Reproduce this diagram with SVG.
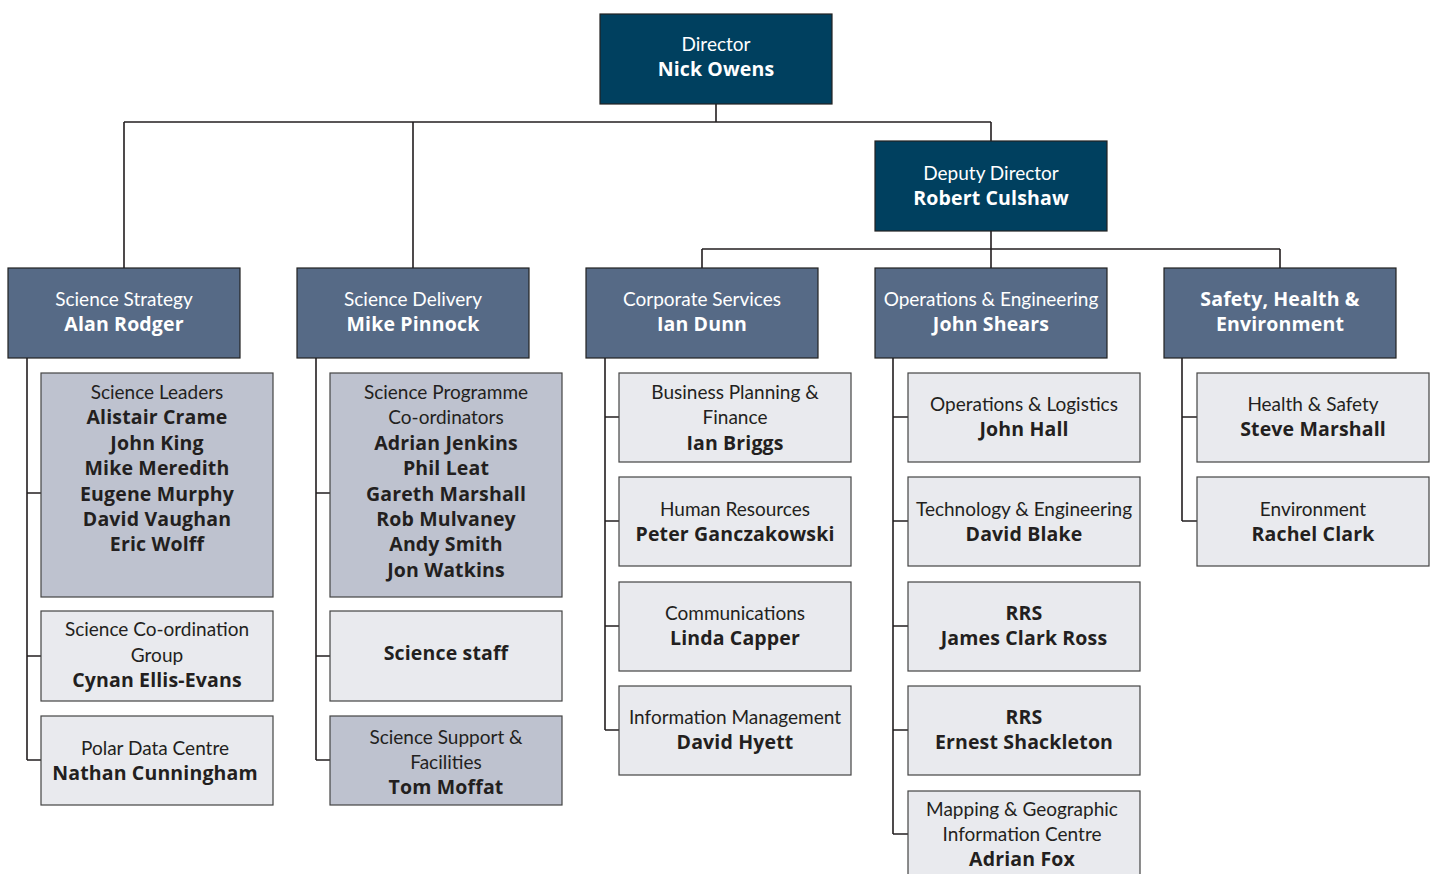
<svg xmlns="http://www.w3.org/2000/svg" width="1434" height="874" viewBox="0 0 1434 874">
<style>
text{font-family:Lato,"Open Sans","Liberation Sans",sans-serif;font-size:19px;text-anchor:middle;fill:#231f20}
.w text{fill:#fff}
text.b{font-family:"Open Sans",Lato,"Liberation Sans",sans-serif;font-weight:bold;font-size:19.5px;letter-spacing:0.15px}
.top{fill:#00405f;stroke:#222;stroke-width:1.2}
.hd{fill:#566a86;stroke:#222;stroke-width:1.2}
.dk{fill:#bec2cf;stroke:#444;stroke-width:1.2}
.lt{fill:#e9eaee;stroke:#444;stroke-width:1.2}
#connectors path{fill:none;stroke:#231f20;stroke-width:1.6}
</style>
<rect width="1434" height="874" fill="#fff"/>
<g id="connectors">
<path d="M716 104V122M124 122H991M124 122V268M413 122V268M991 122V141"/>
<path d="M991 231V249M702 249H1280M702 249V268M991 249V268M1280 249V268"/>
<path d="M27 358V760M27 493H41M27 656H41M27 760H41"/>
<path d="M316 358V760M316 493H330M316 656H330M316 760H330"/>
<path d="M605 358V730M605 417H619M605 521H619M605 626H619M605 730H619"/>
<path d="M893 358V834M893 417H908M893 521H908M893 626H908M893 730H908M893 834H908"/>
<path d="M1182 358V521M1182 417H1197M1182 521H1197"/>
</g>
<g id="director" class="w"><rect class="top" x="600" y="14" width="232" height="90"/><text x="716" y="51">Director</text><text class="b" x="716" y="76">Nick Owens</text></g>
<g id="deputy" class="w"><rect class="top" x="875" y="141" width="232" height="90"/><text x="991" y="180">Deputy Director</text><text class="b" x="991" y="205">Robert Culshaw</text></g>
<g id="science-strategy" class="w"><rect class="hd" x="8" y="268" width="232" height="90"/><text x="124" y="306">Science Strategy</text><text class="b" x="124" y="331">Alan Rodger</text></g>
<g id="science-delivery" class="w"><rect class="hd" x="297" y="268" width="232" height="90"/><text x="413" y="306">Science Delivery</text><text class="b" x="413" y="331">Mike Pinnock</text></g>
<g id="corporate-services" class="w"><rect class="hd" x="586" y="268" width="232" height="90"/><text x="702" y="306">Corporate Services</text><text class="b" x="702" y="331">Ian Dunn</text></g>
<g id="operations-engineering" class="w"><rect class="hd" x="875" y="268" width="232" height="90"/><text x="991" y="306">Operations &amp; Engineering</text><text class="b" x="991" y="331">John Shears</text></g>
<g id="safety" class="w"><rect class="hd" x="1164" y="268" width="232" height="90"/><text class="b" x="1280" y="306">Safety, Health &amp;</text><text class="b" x="1280" y="331">Environment</text></g>

<g id="science-leaders"><rect class="dk" x="41" y="373" width="232" height="224"/><text x="157" y="399">Science Leaders</text><text class="b" x="157" y="424">Alistair Crame</text><text class="b" x="157" y="450">John King</text><text class="b" x="157" y="475">Mike Meredith</text><text class="b" x="157" y="501">Eugene Murphy</text><text class="b" x="157" y="526">David Vaughan</text><text class="b" x="157" y="551">Eric Wolff</text></g>
<g id="science-coordination"><rect class="lt" x="41" y="611" width="232" height="90"/><text x="157" y="636">Science Co-ordination</text><text x="157" y="662">Group</text><text class="b" x="157" y="687">Cynan Ellis-Evans</text></g>
<g id="polar-data"><rect class="lt" x="41" y="716" width="232" height="89"/><text x="155" y="755">Polar Data Centre</text><text class="b" x="155" y="780">Nathan Cunningham</text></g>

<g id="programme-coordinators"><rect class="dk" x="330" y="373" width="232" height="224"/><text x="446" y="399">Science Programme</text><text x="446" y="424">Co-ordinators</text><text class="b" x="446" y="450">Adrian Jenkins</text><text class="b" x="446" y="475">Phil Leat</text><text class="b" x="446" y="501">Gareth Marshall</text><text class="b" x="446" y="526">Rob Mulvaney</text><text class="b" x="446" y="551">Andy Smith</text><text class="b" x="446" y="577">Jon Watkins</text></g>
<g id="science-staff"><rect class="lt" x="330" y="611" width="232" height="90"/><text class="b" x="446" y="660">Science staff</text></g>
<g id="science-support"><rect class="dk" x="330" y="716" width="232" height="89"/><text x="446" y="744">Science Support &amp;</text><text x="446" y="769">Facilities</text><text class="b" x="446" y="794">Tom Moffat</text></g>

<g id="business-planning"><rect class="lt" x="619" y="373" width="232" height="89"/><text x="735" y="399">Business Planning &amp;</text><text x="735" y="424">Finance</text><text class="b" x="735" y="450">Ian Briggs</text></g>
<g id="human-resources"><rect class="lt" x="619" y="477" width="232" height="89"/><text x="735" y="516">Human Resources</text><text class="b" x="735" y="541">Peter Ganczakowski</text></g>
<g id="communications"><rect class="lt" x="619" y="582" width="232" height="89"/><text x="735" y="620">Communications</text><text class="b" x="735" y="645">Linda Capper</text></g>
<g id="information-management"><rect class="lt" x="619" y="686" width="232" height="89"/><text x="735" y="724">Information Management</text><text class="b" x="735" y="749">David Hyett</text></g>

<g id="operations-logistics"><rect class="lt" x="908" y="373" width="232" height="89"/><text x="1024" y="411">Operations &amp; Logistics</text><text class="b" x="1024" y="436">John Hall</text></g>
<g id="technology-engineering"><rect class="lt" x="908" y="477" width="232" height="89"/><text x="1024" y="516">Technology &amp; Engineering</text><text class="b" x="1024" y="541">David Blake</text></g>
<g id="rrs-jcr"><rect class="lt" x="908" y="582" width="232" height="89"/><text class="b" x="1024" y="620">RRS</text><text class="b" x="1024" y="645">James Clark Ross</text></g>
<g id="rrs-es"><rect class="lt" x="908" y="686" width="232" height="89"/><text class="b" x="1024" y="724">RRS</text><text class="b" x="1024" y="749">Ernest Shackleton</text></g>
<g id="mapping"><rect class="lt" x="908" y="791" width="232" height="95"/><text x="1022" y="816">Mapping &amp; Geographic</text><text x="1022" y="841">Information Centre</text><text class="b" x="1022" y="866">Adrian Fox</text></g>

<g id="health-safety"><rect class="lt" x="1197" y="373" width="232" height="89"/><text x="1313" y="411">Health &amp; Safety</text><text class="b" x="1313" y="436">Steve Marshall</text></g>
<g id="environment"><rect class="lt" x="1197" y="477" width="232" height="89"/><text x="1313" y="516">Environment</text><text class="b" x="1313" y="541">Rachel Clark</text></g>
</svg>
